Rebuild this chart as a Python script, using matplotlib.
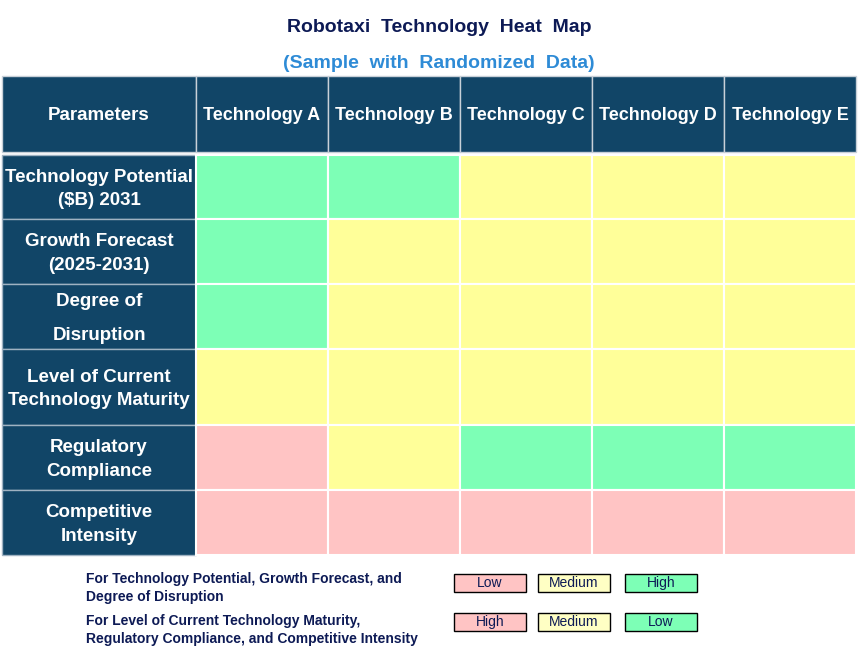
import numpy as np
import matplotlib.pyplot as plt
from matplotlib.patches import Rectangle

# Datos del mapa de calor
title = "Robotaxi  Technology  Heat  Map"
subtitle = "(Sample  with  Randomized  Data)"
header_first = "Parameters"
technologies = ["Technology A", "Technology B", "Technology C", "Technology D", "Technology E"]
parameters = [
    "Technology Potential\n($B) 2031",
    "Growth Forecast\n(2025-2031)",
    "Degree of\nDisruption",
    "Level of Current\nTechnology Maturity",
    "Regulatory\nCompliance",
    "Competitive\nIntensity",
]
ratings = [
    ["High", "High", "Medium", "Medium", "Medium"],
    ["High", "Medium", "Medium", "Medium", "Medium"],
    ["High", "Medium", "Medium", "Medium", "Medium"],
    ["Medium", "Medium", "Medium", "Medium", "Medium"],
    ["High", "Medium", "Low", "Low", "Low"],
    ["High", "High", "High", "High", "High"],
]
# en las tres ultimas filas "Low" es lo favorable
inverted = [False, False, False, True, True, True]

legend_texts = [
    "For Technology Potential, Growth Forecast, and\nDegree of Disruption",
    "For Level of Current Technology Maturity,\nRegulatory Compliance, and Competitive Intensity",
]
legend_labels = [["Low", "Medium", "High"], ["High", "Medium", "Low"]]

# Estilo
NAVY = "#114567"
GREEN = "#7DFFB6"
YELLOW = "#FFFF99"
PINK = "#FFC4C4"
TXT = "#0D1A55"
plt.rcParams['font.family'] = ['Liberation Sans', 'DejaVu Sans']

col_w = [194, 132, 132, 132, 132, 132]
row_h = [64, 65, 65, 76, 65, 65]
x0, head_top, head_bot, body_top = 2, 76, 152, 155
col_edges = x0 + np.concatenate([[0], np.cumsum(col_w)])
row_edges = body_top + np.concatenate([[0], np.cumsum(row_h)])


def cell_color(level, inv):
    if level == "Medium":
        return YELLOW
    good = "Low" if inv else "High"
    return GREEN if level == good else PINK


fig = plt.figure(figsize=(8.59, 6.59), dpi=100)
ax = fig.add_axes([0, 0, 1, 1])
ax.set_xlim(0, 859)
ax.set_ylim(659, 0)
ax.axis('off')

ax.text(439, 28, title, ha='center', va='center', fontsize=14, fontweight='bold', color=TXT)
ax.text(439, 64, subtitle, ha='center', va='center', fontsize=14, fontweight='bold', color="#2E8BD6")

# cabecera
headers = [header_first] + technologies
for j, h in enumerate(headers):
    ax.add_patch(Rectangle((col_edges[j], head_top), col_w[j], head_bot - head_top,
                           facecolor=NAVY, edgecolor="#C8D0D8", lw=1))
    ax.text(col_edges[j] + col_w[j] / 2, (head_top + head_bot) / 2 + 1, h, ha='center', va='center',
            fontsize=13.5 if j == 0 else 13, fontweight='bold', color='white')

# filas
for i, p in enumerate(parameters):
    y = row_edges[i]
    ax.add_patch(Rectangle((col_edges[0], y), col_w[0], row_h[i],
                           facecolor=NAVY, edgecolor="#9FB2C2", lw=1))
    ls = 2.3 if i == 2 else 1.5
    ax.text(col_edges[0] + col_w[0] / 2, y + row_h[i] / 2 + 2, p, ha='center', va='center',
            fontsize=13.5, fontweight='bold', color='white', linespacing=ls)
    for j, lvl in enumerate(ratings[i]):
        ax.add_patch(Rectangle((col_edges[j + 1], y), col_w[j + 1], row_h[i],
                               facecolor=cell_color(lvl, inverted[i]), edgecolor='white', lw=1.5))

# leyenda
leg_y = [583, 622]
text_top = [572, 614]
box_x = [454, 538, 625]
for k, t in enumerate(legend_texts):
    ax.text(86, text_top[k], t, ha='left', va='top', fontsize=10, fontweight='bold',
            color=TXT, linespacing=1.4)
    for m, lab in enumerate(legend_labels[k]):
        ax.add_patch(Rectangle((box_x[m], leg_y[k] - 9), 72, 18,
                               facecolor=cell_color(lab, k == 1) if lab != "Medium" else "#FFFFC4",
                               edgecolor='black', lw=1))
        ax.text(box_x[m] + 36, leg_y[k], lab, ha='center', va='center', fontsize=10, color=TXT)

plt.savefig("out.png", dpi=100)
